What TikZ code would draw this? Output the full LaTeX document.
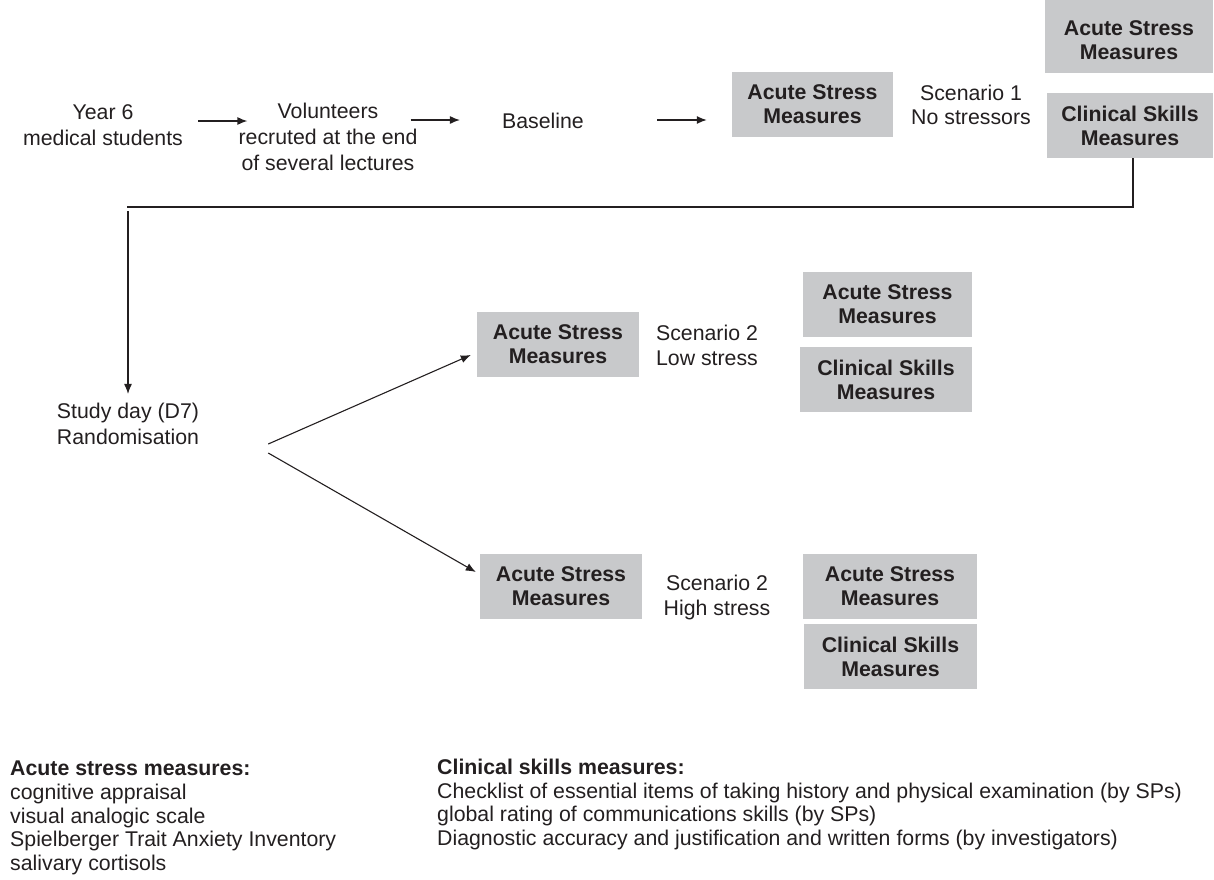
\documentclass[tikz,border=0pt]{standalone}
\usepackage{fontspec}
\setmainfont{Liberation Sans}
\usetikzlibrary{arrows.meta}
\definecolor{boxgray}{RGB}{200,201,203}
\definecolor{ink}{RGB}{35,31,32}
\begin{document}
\begin{tikzpicture}[x=1pt,y=-1pt,
  every node/.style={inner sep=0pt, text=ink, font=\fontsize{21.3}{25}\selectfont},
  lbl/.style={align=center},
  lbltall/.style={align=center, font=\fontsize{21.3}{26}\selectfont},
  mbox/.style={fill=boxgray, align=center, minimum height=65pt, font=\fontsize{21.3}{24}\selectfont\bfseries},
  arr/.style={draw=ink, line width=1.3pt, -{Latex[length=10pt,width=8pt]}},
  legend/.style={anchor=base west, align=left, font=\fontsize{21.3}{23.7}\selectfont}]
\useasboundingbox (0,0) rectangle (1214,879);
\clip (0,0) rectangle (1214,879);

% top row
\node[lbltall] (year) at (103,125) {Year 6\\medical students};
\node[lbltall] (vol) at (328,137) {Volunteers\\recruted at the end\\of several lectures};
\node (base) at (543,121) {Baseline};
\node[mbox, minimum width=161pt] (asm1) at (812.5,104.5) {Acute Stress\\Measures};
\node[lbl, font=\fontsize{21.3}{24}\selectfont] (sc1) at (971,105) {Scenario 1\\No stressors};
\fill[boxgray] (1045,0) rectangle (1213,73);
\node[mbox, fill=none, minimum height=0pt] (asm1b) at (1129,40.5) {Acute Stress\\Measures};
\node[mbox, minimum width=166pt] (cs1) at (1130,125.5) {Clinical Skills\\Measures};

\draw[arr] ([xshift=15pt,yshift=4pt]year.east) -- ([xshift=9pt,yshift=16pt]vol.west);
\draw[arr] ([xshift=-7pt,yshift=17pt]vol.east) -- ([xshift=-42pt,yshift=1pt]base.west);
\draw[arr] ([xshift=73pt,yshift=1pt]base.east) -- ([xshift=-25pt,yshift=-15.5pt]asm1.west);

% return line
\coordinate (turn) at (128,207);
\draw[draw=ink, line width=1.5pt] ([xshift=3pt]cs1.south) -- ([xshift=3pt]cs1.south |- turn);
\draw[draw=ink, line width=2.6pt] ([xshift=3.75pt]cs1.south |- turn) -- ([xshift=-0.75pt]turn);

\node[lbltall, align=left] (study) at (128,424) {Study day (D7)\\Randomisation};
\draw[arr] ([yshift=-4pt]turn) -- ([yshift=9pt]study.north);

% low stress branch
\node[mbox, minimum width=162pt] (asmL) at (558,344.5) {Acute Stress\\Measures};
\node[lbl] (sc2L) at (707,345) {Scenario 2\\Low stress};
\node[mbox, minimum width=169pt] (asmLR) at (887.5,304.5) {Acute Stress\\Measures};
\node[mbox, minimum width=172pt] (csLR) at (886,379.5) {Clinical Skills\\Measures};

% high stress branch
\node[mbox, minimum width=162pt] (asmH) at (561,586.5) {Acute Stress\\Measures};
\node[lbl] (sc2H) at (717,597) {Scenario 2\\High stress};
\node[mbox, minimum width=174pt] (asmHR) at (890,586.5) {Acute Stress\\Measures};
\node[mbox, minimum width=173pt] (csHR) at (890.5,656.5) {Clinical Skills\\Measures};

\draw[arr, line width=1.1pt] ([xshift=69pt,yshift=-20pt]study.east) -- ([xshift=-6pt,yshift=-10.5pt]asmL.west);
\draw[arr, line width=1.1pt] ([xshift=69pt,yshift=-29pt]study.east) -- ([xshift=-4pt,yshift=14.5pt]asmH.west);

% legends (base = baseline of last line)
\node[legend] (legA) at (10,870.5) {\textbf{Acute stress measures:}\\cognitive appraisal\\visual analogic scale\\Spielberger Trait Anxiety Inventory\\salivary cortisols};
\node[legend] (legC) at (437,845.5) {\textbf{Clinical skills measures:}\\Checklist of essential items of taking history and physical examination (by SPs)\\global rating of communications skills (by SPs)\\Diagnostic accuracy and justification and written forms (by investigators)};
\end{tikzpicture}
\end{document}
